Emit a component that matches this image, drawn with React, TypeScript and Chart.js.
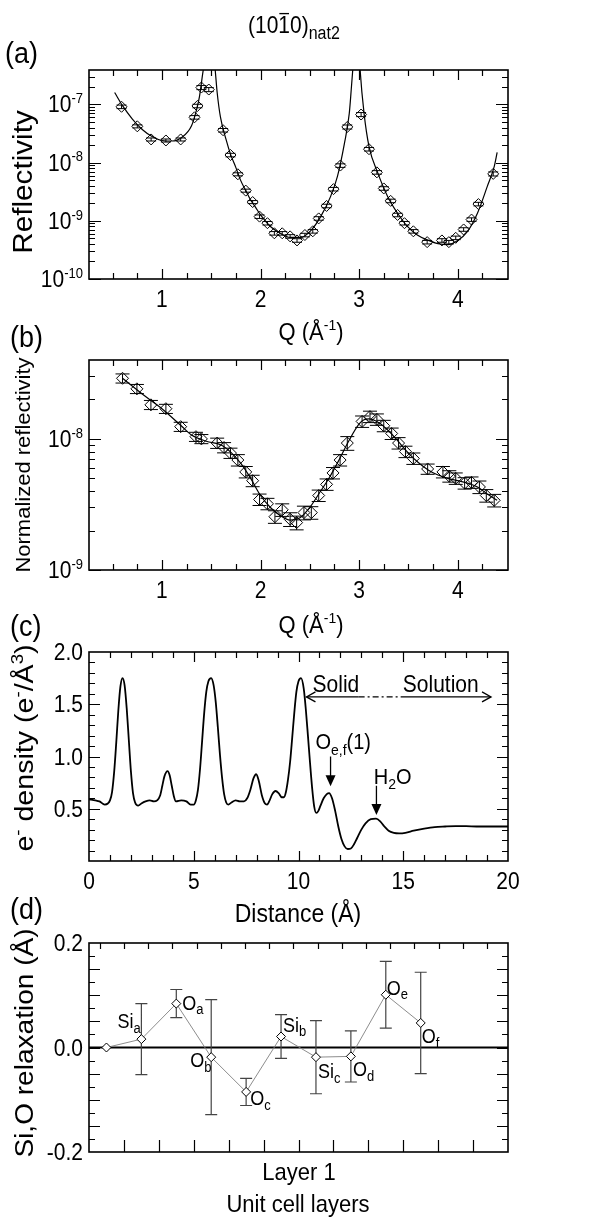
import React, { useEffect, useRef } from "react";
import { Chart, registerables } from "chart.js";
Chart.register(...registerables);

const FONT = '"Liberation Sans", Arial, Helvetica, sans-serif';
const K = 1.1; // vertical stretch of the lettering in the reference

// ---------------- (a) reflectivity ----------------
const aQ = [0.59, 0.75, 0.89, 1.04, 1.19, 1.33, 1.36, 1.40, 1.475, 1.62, 1.695, 1.77, 1.85, 1.92, 1.99, 2.07, 2.14, 2.22, 2.30, 2.37, 2.45, 2.53, 2.59, 2.67, 2.74, 2.81, 2.88, 3.02, 3.10, 3.18, 3.25, 3.32, 3.39, 3.46, 3.55, 3.69, 3.84, 3.91, 3.98, 4.06, 4.14, 4.21, 4.36];
const aR = [9.1e-8, 4.2e-8, 2.5e-8, 2.4e-8, 2.5e-8, 6.0e-8, 9.4e-8, 1.95e-7, 1.8e-7, 3.6e-8, 1.35e-8, 6.3e-9, 3.3e-9, 2.1e-9, 1.18e-9, 9.1e-10, 6.1e-10, 6.1e-10, 5.4e-10, 4.6e-10, 5.7e-10, 6.6e-10, 1.1e-9, 1.8e-9, 3.5e-9, 8.9e-9, 4.1e-8, 6.7e-8, 1.7e-8, 6.8e-9, 3.6e-9, 2.2e-9, 1.26e-9, 9.1e-10, 6.6e-10, 4.3e-10, 4.6e-10, 4.3e-10, 5.1e-10, 7.1e-10, 1.05e-9, 1.94e-9, 6.4e-9];
const aErr = [0.07, 0.06, 0.06, 0.06, 0.06, 0.07, 0.07, 0.08, 0.08, 0.07, 0.07, 0.06, 0.06, 0.06, 0.07, 0.07, 0.07, 0.07, 0.07, 0.07, 0.07, 0.07, 0.07, 0.07, 0.07, 0.07, 0.08, 0.08, 0.07, 0.07, 0.07, 0.07, 0.07, 0.07, 0.07, 0.07, 0.07, 0.07, 0.07, 0.07, 0.07, 0.07, 0.08];
const aFit1Q = [0.52, 0.6, 0.7, 0.8, 0.9, 1.0, 1.1, 1.2, 1.3, 1.35, 1.38, 1.42, 1.45];
const aFit1R = [1.6e-7, 9.5e-8, 5.6e-8, 3.7e-8, 2.8e-8, 2.4e-8, 2.35e-8, 2.7e-8, 4.3e-8, 8e-8, 1.35e-7, 4e-7, 7e-7];
const aFit2Q = [1.52, 1.54, 1.56, 1.593, 1.65, 1.695, 1.75, 1.797, 1.85, 1.898, 1.95, 2.0, 2.1, 2.2, 2.3, 2.41, 2.51, 2.61, 2.71, 2.78, 2.85, 2.9, 2.92, 2.94];
const aFit2R = [8e-7, 3.9e-7, 1.6e-7, 6.1e-8, 2.5e-8, 1.4e-8, 8.2e-9, 5e-9, 3.3e-9, 2.3e-9, 1.7e-9, 1.26e-9, 8e-10, 6.1e-10, 5.2e-10, 5.2e-10, 6.8e-10, 1.18e-9, 2.6e-9, 5.8e-9, 2.1e-8, 7e-8, 1.8e-7, 5e-7];
const aFit3Q = [3.0, 3.01, 3.05, 3.1, 3.19, 3.29, 3.39, 3.49, 3.59, 3.69, 3.8, 3.9, 4.0, 4.1, 4.2, 4.3, 4.37, 4.4];
const aFit3R = [8e-7, 3.9e-7, 7e-8, 1.9e-8, 6.6e-9, 2.6e-9, 1.35e-9, 8e-10, 5.7e-10, 4.7e-10, 4.05e-10, 3.9e-10, 4.6e-10, 6.6e-10, 1.35e-9, 3.9e-9, 8.5e-9, 1.5e-8];
const aXTicks = [1, 2, 3, 4];
const aYTicks = [1e-10, 1e-9, 1e-8, 1e-7];

// ---------------- (b) normalized reflectivity ----------------
const bQ = [0.60, 0.746, 0.888, 1.04, 1.19, 1.345, 1.40, 1.56, 1.63, 1.695, 1.77, 1.85, 1.92, 1.99, 2.07, 2.146, 2.22, 2.30, 2.366, 2.44, 2.515, 2.59, 2.67, 2.735, 2.807, 2.88, 3.03, 3.11, 3.18, 3.25, 3.33, 3.40, 3.47, 3.55, 3.695, 3.85, 3.915, 3.98, 4.07, 4.14, 4.22, 4.29, 4.37];
const bR = [2.9e-8, 2.41e-8, 1.82e-8, 1.7e-8, 1.24e-8, 1.04e-8, 1.0e-8, 9.3e-9, 8.6e-9, 7.8e-9, 6.9e-9, 5.6e-9, 4.8e-9, 3.45e-9, 3.2e-9, 2.55e-9, 2.88e-9, 2.44e-9, 2.3e-9, 2.74e-9, 2.74e-9, 3.7e-9, 4.5e-9, 5.5e-9, 6.9e-9, 9.3e-9, 1.36e-8, 1.48e-8, 1.41e-8, 1.26e-8, 1.1e-8, 9.3e-9, 8.0e-9, 7.1e-9, 5.9e-9, 5.6e-9, 5.2e-9, 5.0e-9, 4.6e-9, 4.66e-9, 4.3e-9, 3.7e-9, 3.4e-9];
const bErr = [0.08, 0.08, 0.08, 0.08, 0.08, 0.08, 0.08, 0.09, 0.09, 0.09, 0.1, 0.1, 0.1, 0.1, 0.1, 0.11, 0.11, 0.12, 0.12, 0.12, 0.11, 0.1, 0.1, 0.1, 0.1, 0.12, 0.1, 0.1, 0.1, 0.1, 0.1, 0.1, 0.1, 0.1, 0.09, 0.1, 0.1, 0.1, 0.1, 0.1, 0.11, 0.11, 0.11];
const bFitQ = [0.6, 0.8, 1.0, 1.2, 1.3, 1.45, 1.6, 1.7, 1.8, 1.9, 2.0, 2.1, 2.2, 2.3, 2.4, 2.5, 2.6, 2.7, 2.8, 2.9, 3.0, 3.05, 3.1, 3.2, 3.3, 3.4, 3.5, 3.6, 3.7, 3.8, 3.9, 4.0, 4.1, 4.2, 4.3, 4.4];
const bFitR = [2.9e-8, 2.2e-8, 1.7e-8, 1.25e-8, 1.07e-8, 9.6e-9, 9e-9, 7.9e-9, 6.5e-9, 5e-9, 3.7e-9, 3.0e-9, 2.6e-9, 2.4e-9, 2.5e-9, 3.0e-9, 3.9e-9, 5.1e-9, 7e-9, 9.8e-9, 1.3e-8, 1.4e-8, 1.42e-8, 1.33e-8, 1.15e-8, 9.5e-9, 7.8e-9, 6.6e-9, 5.8e-9, 5.3e-9, 5.0e-9, 4.8e-9, 4.6e-9, 4.3e-9, 3.8e-9, 3.4e-9];
const bXTicks = [1, 2, 3, 4];
const bYTicks = [1e-9, 1e-8];

// ---------------- (c) electron density ----------------
const cDist = [0, 0.3, 0.5, 0.75, 0.9, 1.0, 1.1, 1.2, 1.3, 1.4, 1.5, 1.6, 1.7, 1.8, 1.9, 2.0, 2.1, 2.2, 2.35, 2.5, 2.7, 2.9, 3.1, 3.25, 3.4, 3.5, 3.6, 3.75, 3.85, 3.95, 4.05, 4.15, 4.4, 4.65, 4.85, 5.0, 5.1, 5.2, 5.3, 5.4, 5.5, 5.6, 5.7, 5.83, 5.95, 6.05, 6.15, 6.25, 6.35, 6.45, 6.55, 6.65, 6.8, 7.0, 7.2, 7.4, 7.55, 7.7, 7.85, 7.98, 8.1, 8.25, 8.4, 8.5, 8.6, 8.75, 8.9, 9.05, 9.2, 9.3, 9.4, 9.5, 9.6, 9.7, 9.8, 9.9, 10.0, 10.12, 10.25, 10.35, 10.45, 10.55, 10.65, 10.75, 10.85, 10.95, 11.05, 11.2, 11.35, 11.46, 11.6, 11.75, 11.9, 12.05, 12.2, 12.35, 12.5, 12.65, 12.8, 13.0, 13.2, 13.45, 13.7, 13.9, 14.1, 14.3, 14.55, 14.8, 15.1, 15.5, 16.0, 16.5, 17.0, 17.5, 18.0, 18.5, 19.0, 20.0];
const cRho = [0.59, 0.58, 0.57, 0.54, 0.55, 0.58, 0.66, 0.85, 1.13, 1.44, 1.67, 1.75, 1.68, 1.46, 1.16, 0.86, 0.65, 0.56, 0.53, 0.55, 0.57, 0.58, 0.57, 0.58, 0.63, 0.72, 0.81, 0.86, 0.82, 0.72, 0.62, 0.57, 0.58, 0.57, 0.54, 0.54, 0.58, 0.68, 0.88, 1.15, 1.42, 1.62, 1.72, 1.75, 1.68, 1.52, 1.28, 1.02, 0.8, 0.64, 0.56, 0.54, 0.56, 0.58, 0.57, 0.57, 0.6, 0.68, 0.79, 0.83, 0.77, 0.63, 0.55, 0.54, 0.57, 0.64, 0.67, 0.65, 0.61, 0.61, 0.66, 0.78, 0.95, 1.18, 1.42, 1.62, 1.72, 1.75, 1.65, 1.45, 1.2, 0.94, 0.7, 0.52, 0.46, 0.48, 0.53, 0.6, 0.64, 0.65, 0.6, 0.48, 0.33, 0.21, 0.14, 0.115, 0.12, 0.16, 0.22, 0.3, 0.36, 0.4, 0.405, 0.38, 0.33, 0.29, 0.27, 0.265, 0.27, 0.29, 0.31, 0.325, 0.33, 0.333, 0.333, 0.33, 0.33, 0.33];
const cXTicks = [0, 5, 10, 15, 20];
const cYTicks = [0.5, 1.0, 1.5, 2.0];

// ---------------- (d) Si,O relaxation ----------------
const dLayer = [0, 1, 2, 3, 4, 5, 6, 7, 8, 9];
const dShift = [0, 0.016, 0.084, -0.0185, -0.085, 0.021, -0.0185, -0.017, 0.101, 0.047];
const dErr = [0, 0.068, 0.027, 0.11, 0.026, 0.042, 0.07, 0.049, 0.064, 0.097];
const dAtom = ["", "Si", "O", "O", "O", "Si", "Si", "O", "O", "O"];
const dSite = ["", "a", "a", "b", "c", "b", "c", "d", "e", "f"];
const dYTicks = [-0.2, 0.0, 0.2];

// label offsets (pixels) for the (d) atom names
const dLabelDx = [0, -24, 6, -21, 4, 2, 2, 2, 1, 1];
const dLabelDy = [0, -11, 6, 10, 13, -5, 21, 20, 0, 20];

// ---------------- helpers ----------------
type Seg = { t: string; sup?: boolean; sub?: boolean; over?: boolean };

function drawRich(ctx: CanvasRenderingContext2D, segs: Seg[], x: number, y: number, size: number, align = "left", rot = 0, small = Math.round(size * 0.64)) {
  ctx.save();
  ctx.translate(x, y);
  ctx.scale(1, K);
  if (rot) ctx.rotate(rot);
  ctx.fillStyle = "#000";
  ctx.textAlign = "left";
  ctx.textBaseline = "alphabetic";
  const f = (s: Seg) => `${s.sup || s.sub ? small : size}px ${FONT}`;
  const ws = segs.map((s) => { ctx.font = f(s); return ctx.measureText(s.t).width; });
  const tot = ws.reduce((p, c) => p + c, 0);
  let cx = align === "center" ? -tot / 2 : align === "right" ? -tot : 0;
  segs.forEach((s, i) => {
    ctx.font = f(s);
    const dy = s.sup ? -size * 0.4 : s.sub ? size * 0.24 : 0;
    ctx.fillText(s.t, cx, dy);
    if (s.over) {
      ctx.strokeStyle = "#000";
      ctx.lineWidth = 1.2;
      ctx.beginPath();
      ctx.moveTo(cx + 1, -size * 0.84);
      ctx.lineTo(cx + ws[i] - 1, -size * 0.84);
      ctx.stroke();
    }
    cx += ws[i];
  });
  ctx.restore();
}

const stepRange = (a: number, b: number, s: number) => {
  const r: number[] = [];
  for (let i = 0; a + i * s <= b + 1e-9; i++) r.push(+(a + i * s).toFixed(6));
  return r;
};
const logMinors = (min: number, max: number) => {
  const r: number[] = [];
  for (let e = Math.floor(Math.log10(min)); e <= Math.ceil(Math.log10(max)); e++)
    for (let m = 2; m <= 9; m++) { const v = m * Math.pow(10, e); if (v > min && v < max) r.push(v); }
  return r;
};
const expLabel = (v: number): Seg[] => [{ t: "10" }, { t: String(Math.round(Math.log10(v))), sup: true }];

type Spec = {
  xMinor: number[]; xMajor: number[]; yMinor: number[]; yMajor: number[];
  xMinorLen: number; xMajorLen: number; yMinorLen: number; yMajorLen: number;
  xTopTicks: boolean;
  xTopOwn?: number[];
  xLabels: { v: number; segs: Seg[] }[];
  yLabels: { v: number; segs: Seg[] }[];
  xTitle?: { segs: Seg[]; cx: number; y: number; size: number; small?: number };
  yTitle: { segs: Seg[]; x: number; cy: number; size: number; small?: number };
  letter: { t: string; x: number; y: number };
  extra?: (chart: any) => void;
};

function axesPlugin(spec: Spec) {
  return {
    id: "frameAxes",
    afterDraw(chart: any) {
      const { ctx, chartArea: a } = chart;
      const sx = chart.scales.x, sy = chart.scales.y;
      ctx.save();
      ctx.strokeStyle = "#000";
      ctx.lineWidth = 1.2;
      ctx.beginPath();
      const xt = (vals: number[], len: number) => vals.forEach((v) => {
        const p = Math.round(sx.getPixelForValue(v)) + 0.5;
        ctx.moveTo(p, a.bottom); ctx.lineTo(p, a.bottom - len);
        if (spec.xTopTicks) { ctx.moveTo(p, a.top); ctx.lineTo(p, a.top + len); }
      });
      const yt = (vals: number[], len: number) => vals.forEach((v) => {
        const p = Math.round(sy.getPixelForValue(v)) + 0.5;
        ctx.moveTo(a.left, p); ctx.lineTo(a.left + len, p);
        ctx.moveTo(a.right, p); ctx.lineTo(a.right - len, p);
      });
      xt(spec.xMinor, spec.xMinorLen); xt(spec.xMajor, spec.xMajorLen);
      yt(spec.yMinor, spec.yMinorLen); yt(spec.yMajor, spec.yMajorLen);
      (spec.xTopOwn || []).forEach((v) => {
        const p = Math.round(sx.getPixelForValue(v)) + 0.5;
        if (p > a.left + 2 && p < a.right - 2) { ctx.moveTo(p, a.top); ctx.lineTo(p, a.top + 6); }
      });
      ctx.stroke();
      ctx.lineWidth = 1.6;
      ctx.strokeRect(a.left, a.top, a.right - a.left, a.bottom - a.top);
      ctx.restore();
      spec.xLabels.forEach((l) => drawRich(ctx, l.segs, sx.getPixelForValue(l.v), a.bottom + 28, 21, "center"));
      spec.yLabels.forEach((l) => drawRich(ctx, l.segs, a.left - 6, sy.getPixelForValue(l.v) + 8, 21, "right", 0, 13));
      if (spec.xTitle) drawRich(ctx, spec.xTitle.segs, spec.xTitle.cx, spec.xTitle.y, spec.xTitle.size, "center", 0, spec.xTitle.small);
      drawRich(ctx, spec.yTitle.segs, spec.yTitle.x, spec.yTitle.cy, spec.yTitle.size, "center", -Math.PI / 2, spec.yTitle.small);
      drawRich(ctx, [{ t: spec.letter.t }], spec.letter.x, spec.letter.y, 27, "left");
      if (spec.extra) spec.extra(chart);
    },
  };
}

function errPlugin(xs: number[], ys: number[], errs: number[], relative: boolean, cap: number, color: string, width: number, zeroLine = false) {
  return {
    id: "errBars",
    beforeDatasetsDraw(chart: any) {
      const { ctx, chartArea: a } = chart;
      const sx = chart.scales.x, sy = chart.scales.y;
      ctx.save();
      if (zeroLine) {
        ctx.strokeStyle = "#000";
        ctx.lineWidth = 2;
        ctx.beginPath();
        const p = sy.getPixelForValue(0);
        ctx.moveTo(a.left, p); ctx.lineTo(a.right, p);
        ctx.stroke();
      }
      ctx.strokeStyle = color;
      ctx.lineWidth = width;
      ctx.beginPath();
      xs.forEach((x, i) => {
        const e = errs[i];
        if (!e) return;
        const lo = relative ? ys[i] * (1 - e) : ys[i] - e;
        const hi = relative ? ys[i] * (1 + e) : ys[i] + e;
        const px = sx.getPixelForValue(x);
        const pl = sy.getPixelForValue(lo), ph = sy.getPixelForValue(hi);
        ctx.moveTo(px, pl); ctx.lineTo(px, ph);
        ctx.moveTo(px - cap, pl); ctx.lineTo(px + cap, pl);
        ctx.moveTo(px - cap, ph); ctx.lineTo(px + cap, ph);
      });
      ctx.stroke();
      ctx.restore();
    },
  };
}

const pts = (xs: number[], ys: number[]) => xs.map((x, i) => ({ x, y: ys[i] }));

const pointsDs = (xs: number[], ys: number[], r: number) => ({
  data: pts(xs, ys), showLine: false, pointStyle: "rectRot", pointRadius: r,
  pointBorderColor: "#000", pointBackgroundColor: "rgba(0,0,0,0)", pointBorderWidth: 1,
});
const fitDs = (xs: number[], ys: number[], w = 1.2) => ({
  data: pts(xs, ys), showLine: true, pointRadius: 0, borderColor: "#000", borderWidth: w,
  cubicInterpolationMode: "monotone", fill: false,
});

const baseOptions = (xmin: number, xmax: number, ytype: string, ymin: number, ymax: number, pad: any) => ({
  responsive: false, animation: false, devicePixelRatio: 1, events: [],
  layout: { padding: pad },
  plugins: { legend: { display: false }, tooltip: { enabled: false }, title: { display: false } },
  scales: {
    x: { type: "linear", min: xmin, max: xmax, display: false },
    y: { type: ytype, min: ymin, max: ymax, display: false },
  },
});

const QTitle: Seg[] = [{ t: "Q (Å" }, { t: "-1", sup: true }, { t: ")" }];

// ---------------- panel builders ----------------
function buildA() {
  return {
    type: "scatter",
    data: { datasets: [pointsDs(aQ, aR, 5.5), fitDs(aFit1Q, aFit1R), fitDs(aFit2Q, aFit2R), fitDs(aFit3Q, aFit3R)] },
    options: baseOptions(0.26, 4.51, "logarithmic", 1e-10, 3.9e-7, { left: 89, right: 100, top: 70, bottom: 71 }),
    plugins: [
      errPlugin(aQ, aR, aErr, true, 5, "#000", 1),
      axesPlugin({
        xMinor: stepRange(0.5, 4.25, 0.25).filter((v) => v % 1 !== 0), xMajor: aXTicks,
        yMinor: logMinors(1e-10, 3.9e-7), yMajor: aYTicks,
        xMinorLen: 6, xMajorLen: 10, yMinorLen: 6, yMajorLen: 12, xTopTicks: true,
        xLabels: aXTicks.map((v) => ({ v, segs: [{ t: String(v) }] })),
        yLabels: aYTicks.map((v) => ({ v, segs: expLabel(v) })),
        xTitle: { segs: QTitle, cx: 311, y: 340, size: 22, small: 14 },
        yTitle: { segs: [{ t: "Reflectivity" }], x: 32, cy: 182, size: 27 },
        letter: { t: "(a)", x: 5, y: 63 },
        extra: (chart: any) => {
          drawRich(chart.ctx, [{ t: "(10" }, { t: "1", over: true }, { t: "0)" }, { t: "nat2", sub: true }], 248, 33, 21, "left", 0, 16);
        },
      }),
    ],
  };
}

function buildB() {
  return {
    type: "scatter",
    data: { datasets: [pointsDs(bQ, bR, 6), fitDs(bFitQ, bFitR)] },
    options: baseOptions(0.26, 4.51, "logarithmic", 1e-9, 4e-8, { left: 89, right: 100, top: 60, bottom: 70 }),
    plugins: [
      errPlugin(bQ, bR, bErr, true, 7, "#000", 1),
      axesPlugin({
        xMinor: stepRange(0.5, 4.25, 0.25).filter((v) => v % 1 !== 0), xMajor: bXTicks,
        yMinor: logMinors(1e-9, 4e-8), yMajor: bYTicks,
        xMinorLen: 6, xMajorLen: 10, yMinorLen: 6, yMajorLen: 12, xTopTicks: true,
        xLabels: bXTicks.map((v) => ({ v, segs: [{ t: String(v) }] })),
        yLabels: bYTicks.map((v) => ({ v, segs: expLabel(v) })),
        xTitle: { segs: QTitle, cx: 311, y: 333, size: 22, small: 14 },
        yTitle: { segs: [{ t: "Normalized reflectivity" }], x: 30, cy: 165, size: 20 },
        letter: { t: "(b)", x: 10, y: 47 },
      }),
    ],
  };
}

// (c) annotation anchors, in data units
const cSpanY = 1.57, cSpanX0 = 10.38, cSpanX1 = 19.19, cDashX0 = 12.87, cDashX1 = 14.88;

function buildC() {
  return {
    type: "scatter",
    data: { datasets: [fitDs(cDist, cRho, 1.8)] },
    options: baseOptions(0, 20, "linear", 0, 2, { left: 89, right: 100, top: 52, bottom: 69 }),
    plugins: [
      axesPlugin({
        xMinor: stepRange(1, 19, 1).filter((v) => v % 5 !== 0), xMajor: [5, 10, 15],
        yMinor: stepRange(0.1, 1.9, 0.1).filter((v) => Math.abs(v * 2 - Math.round(v * 2)) > 1e-6), yMajor: [0.5, 1.0, 1.5],
        xMinorLen: 6, xMajorLen: 10, yMinorLen: 6, yMajorLen: 11, xTopTicks: true,
        xLabels: cXTicks.map((v) => ({ v, segs: [{ t: String(v) }] })),
        yLabels: cYTicks.map((v) => ({ v, segs: [{ t: v.toFixed(1) }] })),
        xTitle: { segs: [{ t: "Distance (Å)" }], cx: 298, y: 322, size: 23 },
        yTitle: { segs: [{ t: "e" }, { t: "-", sup: true }, { t: " density (e" }, { t: "-", sup: true }, { t: "/Å" }, { t: "3", sup: true }, { t: ")" }], x: 33, cy: 148, size: 26, small: 17 },
        letter: { t: "(c)", x: 10, y: 36 },
        extra: (chart: any) => {
          const { ctx } = chart;
          const X = (v: number) => chart.scales.x.getPixelForValue(v);
          const Y = (v: number) => chart.scales.y.getPixelForValue(v);
          ctx.save();
          ctx.strokeStyle = "#000"; ctx.fillStyle = "#000"; ctx.lineWidth = 1.3;
          const ay = Y(cSpanY);
          ctx.beginPath();
          ctx.moveTo(X(cSpanX0), ay); ctx.lineTo(X(cDashX0), ay);
          ctx.moveTo(X(cDashX1), ay); ctx.lineTo(X(cSpanX1), ay);
          ctx.stroke();
          ctx.setLineDash([6, 3, 2, 3]);
          ctx.beginPath(); ctx.moveTo(X(cDashX0), ay); ctx.lineTo(X(cDashX1), ay); ctx.stroke();
          ctx.setLineDash([]);
          const head = (x: number, dir: number) => {
            ctx.beginPath(); ctx.moveTo(x + dir * 9, ay - 5); ctx.lineTo(x, ay); ctx.lineTo(x + dir * 9, ay + 5); ctx.stroke();
          };
          head(X(cSpanX0), 1); head(X(cSpanX1), -1);
          const down = (xv: number, y0: number, y1: number) => {
            const x = X(xv), s = Y(y0), t = Y(y1);
            ctx.beginPath(); ctx.moveTo(x, s); ctx.lineTo(x, t - 8); ctx.stroke();
            ctx.beginPath(); ctx.moveTo(x - 5, t - 11); ctx.lineTo(x + 5, t - 11); ctx.lineTo(x, t); ctx.closePath(); ctx.fill();
          };
          down(11.53, 1.0, 0.716);
          down(13.72, 0.72, 0.44);
          ctx.restore();
          drawRich(ctx, [{ t: "Solid" }], X(10.67), Y(1.62), 21, "left");
          drawRich(ctx, [{ t: "Solution" }], X(14.98), Y(1.62), 21, "left");
          drawRich(ctx, [{ t: "O" }, { t: "e,f", sub: true }, { t: "(1)" }], X(10.81), Y(1.067), 20, "left", 0, 14);
          drawRich(ctx, [{ t: "H" }, { t: "2", sub: true }, { t: "O" }], X(13.59), Y(0.735), 20, "left", 0, 14);
        },
      }),
    ],
  };
}

function buildD() {
  return {
    type: "scatter",
    data: {
      datasets: [{
        data: pts(dLayer, dShift), showLine: true, borderColor: "#808080", borderWidth: 0.9,
        pointStyle: "rectRot", pointRadius: 4.5, pointBorderColor: "#000", pointBackgroundColor: "#fff", pointBorderWidth: 1,
      }],
    },
    options: baseOptions(-0.5, 11.5, "linear", -0.2, 0.2, { left: 89, right: 100, top: 53, bottom: 69 }),
    plugins: [
      errPlugin(dLayer, dShift, dErr, false, 6, "#444", 1.2, true),
      axesPlugin({
        xMinor: [], xMajor: stepRange(0.5, 10.5, 1),
        xTopOwn: stepRange(-0.19, 11.4, 0.693),
        yMinor: stepRange(-0.175, 0.175, 0.05), yMajor: stepRange(-0.15, 0.15, 0.05),
        xMinorLen: 0, xMajorLen: 12, yMinorLen: 6, yMajorLen: 11, xTopTicks: false,
        xLabels: [],
        yLabels: dYTicks.map((v) => ({ v, segs: [{ t: v.toFixed(1) }] })),
        yTitle: { segs: [{ t: "Si,O relaxation (Å)" }], x: 33, cy: 153, size: 25.5 },
        letter: { t: "(d)", x: 10, y: 29 },
        extra: (chart: any) => {
          const { ctx } = chart;
          const sx = chart.scales.x, sy = chart.scales.y;
          dLayer.forEach((l, i) => {
            if (!dAtom[i]) return;
            drawRich(ctx, [{ t: dAtom[i] }, { t: dSite[i], sub: true }], sx.getPixelForValue(l) + dLabelDx[i], sy.getPixelForValue(dShift[i]) + dLabelDy[i], 18, "left", 0, 13);
          });
          drawRich(ctx, [{ t: "Layer 1" }], 299, 290, 22, "center");
          drawRich(ctx, [{ t: "Unit cell layers" }], 298, 322, 22, "center");
        },
      }),
    ],
  };
}

function Panel({ top, height, build }: { top: number; height: number; build: () => any }) {
  const ref = useRef<HTMLCanvasElement | null>(null);
  useEffect(() => {
    const chart = new Chart(ref.current as HTMLCanvasElement, build());
    return () => chart.destroy();
  }, []);
  return (
    <canvas ref={ref} width={608} height={height}
      style={{ position: "absolute", left: 0, top, width: 608, height, display: "block" }} />
  );
}

export default function App() {
  return (
    <div style={{ position: "absolute", left: 0, top: 0, width: 608, height: 1221, background: "#fff", overflow: "hidden" }}>
      <Panel top={0} height={350} build={buildA} />
      <Panel top={300} height={340} build={buildB} />
      <Panel top={600} height={330} build={buildC} />
      <Panel top={890} height={331} build={buildD} />
    </div>
  );
}
